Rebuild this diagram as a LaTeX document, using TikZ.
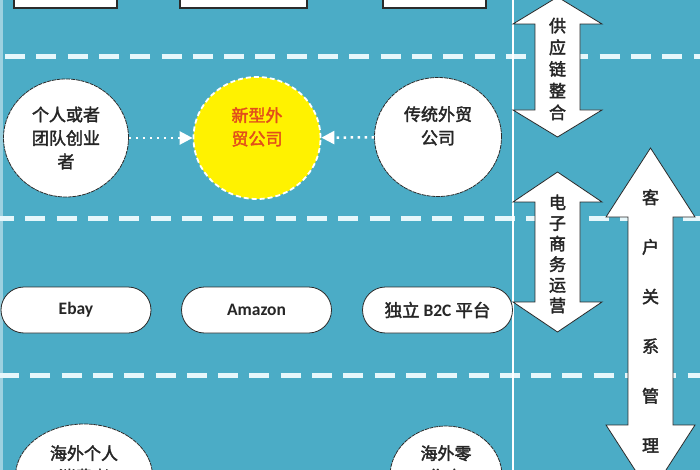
\documentclass[tikz,border=0pt]{standalone}
\usepackage{fontspec}
\setmainfont{Carlito}
\newfontfamily\cjk{Noto Sans CJK SC}[FakeBold=2.2]
\usetikzlibrary{shapes.geometric,arrows.meta}
\definecolor{sea}{HTML}{4BACC6}
\definecolor{lane}{HTML}{E6F7FB}
\definecolor{rim}{HTML}{2B2B2B}
\definecolor{hot}{HTML}{E24E1A}

\begin{document}
\begin{tikzpicture}[x=1pt,y=-1pt,
  actor/.style={ellipse,draw=rim,line width=0.8pt,dash pattern=on 4pt off 0.8pt,fill=white,inner sep=0pt,align=center,text=black!85,font=\cjk\fontsize{17}{23.5}\selectfont},
  pill/.style={rectangle,rounded corners=23pt,draw=rim,line width=0.8pt,fill=white,minimum width=150pt,minimum height=46pt,text=black!85,font=\bfseries\fontsize{17.5}{20}\selectfont},
  lane/.style={draw=lane,line width=5pt,dash pattern=on 20pt off 11.3pt},
  flow/.style={draw=white,line width=2.5pt,dash pattern=on 2.5pt off 4.5pt,-{Triangle[length=13pt,width=13pt]}},
  band/.style={draw=rim,line width=0.8pt,fill=white},
  tag/.style={align=center,inner sep=0pt,text=black!85,font=\cjk\fontsize{17}{21.7}\selectfont}]
\useasboundingbox (0,0) rectangle (700,470);
\clip (0,0) rectangle (700,470);
\fill[sea] (0,0) rectangle (700,470);
\fill[sea!55!white] (0,0) rectangle (2.5,470);
\draw[band,line width=1.2pt] (14,-10) rectangle (117,8);
\draw[band,line width=1.2pt] (180,-10) rectangle (307,8);
\draw[band,line width=1.2pt] (383,-10) rectangle (486,8);
\draw[lane] (5,57) -- (700,57);
\draw[lane] (-6,218) -- (700,218);
\draw[lane] (-1,375) -- (700,375);
\draw[white,line width=1.2pt] (513,0) -- (513,470);
\node[actor,minimum width=125pt,minimum height=118pt] (founder) at (66,138) {个人或者\\团队创业\\者};
\node[actor,fill=yellow,draw=white,line width=1.8pt,dash pattern=on 5pt off 3pt,text=hot,minimum width=127pt,minimum height=122pt] (newco) at (257,138) {新型外\\贸公司\\\mbox{}};
\node[actor,minimum width=127pt,minimum height=119pt] (tradco) at (438,137) {传统外贸\\公司\\\mbox{}};
\draw[flow] (founder) -- (newco);
\draw[flow] (tradco) -- (newco);
\node[pill] (ebay) at (76,310) {Ebay};
\node[pill] (amazon) at (256.5,310) {Amazon};
\node[pill] (b2c) at (437.5,310) {{\cjk\mdseries 独立} B2C {\cjk\mdseries 平台}};
\node[actor,minimum width=137pt,minimum height=104pt] (buyer) at (84,476) {海外个人\\消费者\\\mbox{}};
\node[actor,minimum width=112pt,minimum height=100pt] (retailer) at (446,476) {海外零\\售商\\\mbox{}};
\draw[band] (557.5,-3) -- (602,24) -- (580,24) -- (580,110) -- (602,110) -- (557.5,137) -- (513,110) -- (535,110) -- (535,24) -- (513,24) -- cycle;
\draw[band] (557.5,172) -- (602,202) -- (580,202) -- (580,302) -- (602,302) -- (557.5,332) -- (513,302) -- (535,302) -- (535,202) -- (513,202) -- cycle;
\draw[band] (650.5,148) -- (695,217) -- (673,217) -- (673,425) -- (695,425) -- (650.5,494) -- (606,425) -- (628,425) -- (628,217) -- (606,217) -- cycle;
\node[tag] (supply) at (557.5,69) {供\\应\\链\\整\\合};
\node[tag,font=\cjk\fontsize{17}{20.6}\selectfont] (ecom) at (557.5,254) {电\\子\\商\\务\\运\\营};
\node[tag,font=\cjk\fontsize{17}{49.6}\selectfont] (crm) at (650.5,321) {客\\户\\关\\系\\管\\理};
\end{tikzpicture}
\end{document}
